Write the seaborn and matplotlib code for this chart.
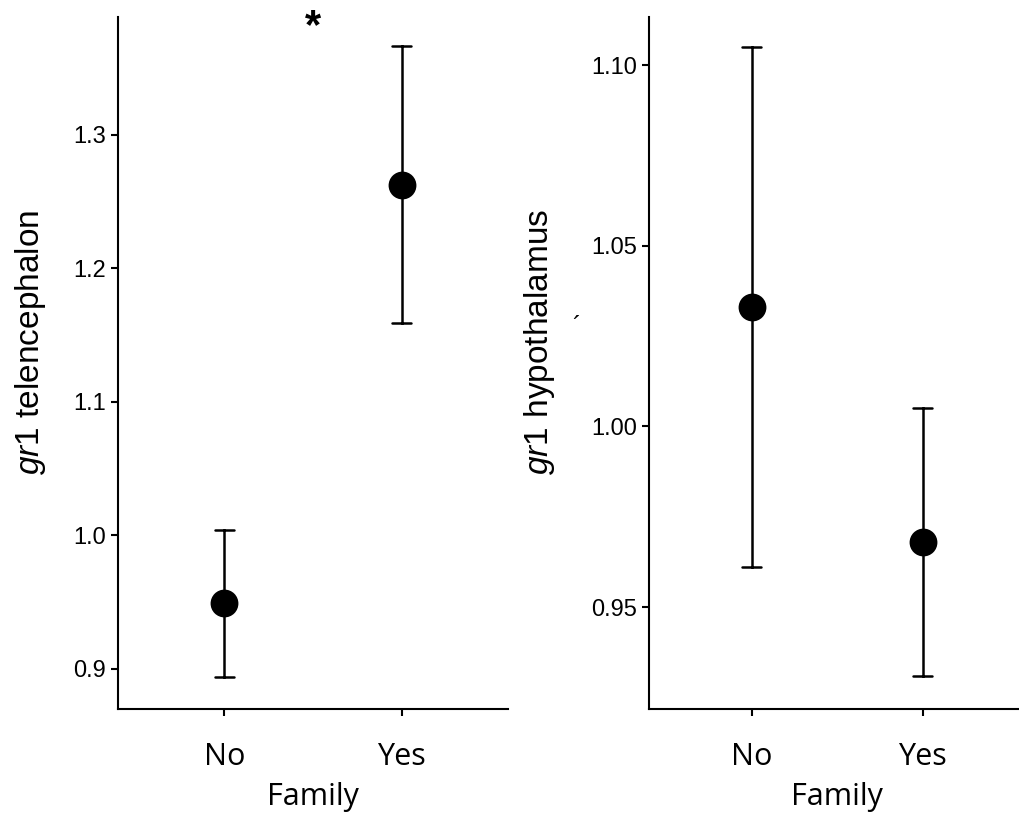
import matplotlib
matplotlib.use("Agg")
import matplotlib.pyplot as plt
import matplotlib.transforms as mtransforms
import seaborn as sns
import pandas as pd

# group means with lower / upper error bar ends
families = ["No", "Yes"]
tel_mean = [0.949, 1.262]
tel_lower = [0.894, 1.159]
tel_upper = [1.004, 1.366]
hyp_mean = [1.033, 0.968]
hyp_lower = [0.961, 0.931]
hyp_upper = [1.105, 1.005]

tel_ticks = [0.9, 1.0, 1.1, 1.2, 1.3]
hyp_ticks = [0.95, 1.00, 1.05, 1.10]


def long_table(means, lowers, uppers):
    """Three rows per group so median = mean and the full range = error bar."""
    rows = []
    for fam, m, lo, hi in zip(families, means, lowers, uppers):
        for v in (lo, m, hi):
            rows.append({"Family": fam, "value": v})
    return pd.DataFrame(rows)


sns.set_style("ticks", {"axes.edgecolor": "black", "xtick.color": "black",
                        "ytick.color": "black", "text.color": "black",
                        "axes.labelcolor": "black"})
plt.rcParams["font.family"] = ["Liberation Sans", "DejaVu Sans"]
plt.rcParams["mathtext.fontset"] = "custom"
plt.rcParams["mathtext.it"] = "Liberation Sans:italic"
plt.rcParams["mathtext.rm"] = "Liberation Sans"
plt.rcParams["axes.linewidth"] = 1.5
plt.rcParams["xtick.major.width"] = 1.5
plt.rcParams["ytick.major.width"] = 1.5
plt.rcParams["xtick.major.size"] = 5
plt.rcParams["ytick.major.size"] = 5

fig = plt.figure(figsize=(10.2, 8.25), dpi=100)
ax1 = fig.add_axes([0.1157, 0.1406, 0.3824, 0.8388])
ax2 = fig.add_axes([0.6363, 0.1406, 0.3690, 0.8388])

panels = [
    (ax1, long_table(tel_mean, tel_lower, tel_upper), "telencephalon",
     (0.870, 1.388), tel_ticks, "{:.1f}", -0.180),
    (ax2, long_table(hyp_mean, hyp_lower, hyp_upper), "hypothalamus",
     (0.9218, 1.1133), hyp_ticks, "{:.2f}", -0.245),
]

for ax, df, region, ylim, ticks, fmt, label_x in panels:
    sns.pointplot(data=df, x="Family", y="value", order=families,
                  estimator="median", errorbar=("pi", 100),
                  color="black", linestyle="none", marker="o",
                  markersize=18, capsize=0.11,
                  err_kws={"linewidth": 1.8}, ax=ax)
    ax.set_xlim(-0.6, 1.6)
    ax.set_ylim(*ylim)
    ax.set_yticks(ticks)
    ax.set_yticklabels([fmt.format(t) for t in ticks], fontsize=17)
    ax.set_xticks(range(len(families)))
    ax.set_xticklabels(families, fontsize=22, family="Open Sans")
    ax.tick_params(axis="x", pad=19)
    ax.set_xlabel("Family", fontsize=22, family="Open Sans", labelpad=7)
    ax.set_ylabel(r"$\mathit{gr1}$ " + region, fontsize=24)
    ax.yaxis.set_label_coords(label_x, 0.53)
    sns.despine(ax=ax)

# significance marker between the two groups
trans = mtransforms.blended_transform_factory(ax1.transData, ax1.transAxes)
ax1.text(0.5, 1.015, "*", transform=trans, ha="center", va="top",
         fontsize=30, fontweight="bold")

# stray mark beside the right label
fig.text(576 / 1020, 1 - 327 / 825, "\u00b4", fontsize=18,
         ha="center", va="center")

fig.savefig("out.png", dpi=100)
